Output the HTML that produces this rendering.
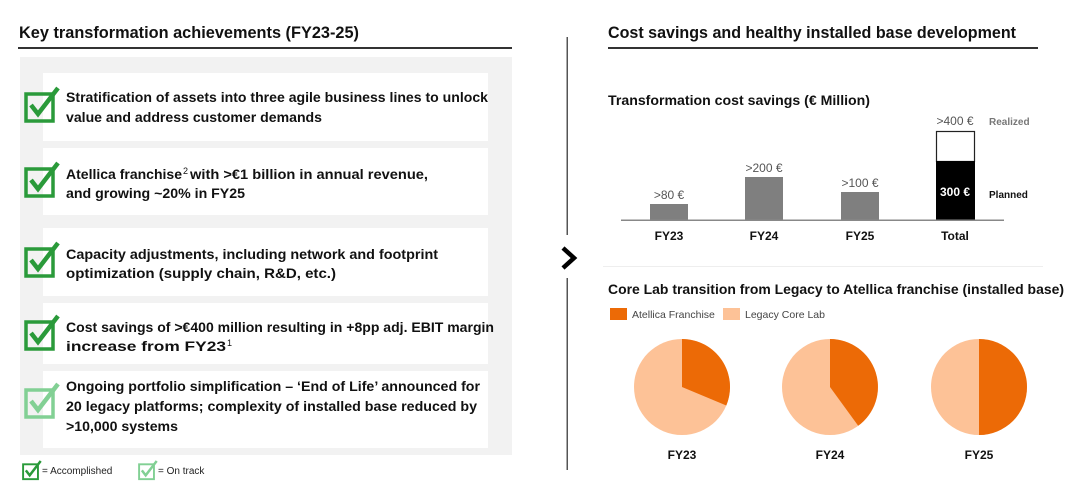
<!DOCTYPE html>
<html><head><meta charset="utf-8"><style>
html,body{margin:0;padding:0;background:#fff;}
svg{display:block;}
text{font-family:"Liberation Sans",sans-serif;}
</style></head><body>
<svg width="1080" height="481" viewBox="0 0 1080 481" xmlns="http://www.w3.org/2000/svg">
<defs>
<g id="chk">
<rect x="2" y="6" width="27" height="27" fill="none" stroke-width="3.5"/>
<path d="M7 17 L14 26 L34 0" fill="none" stroke-width="4.5" stroke-linejoin="miter"/>
</g>
</defs>
<text x="19" y="38" font-size="16.5" font-weight="bold" fill="#111" textLength="340" lengthAdjust="spacingAndGlyphs">Key transformation achievements (FY23-25)</text>
<rect x="18" y="47" width="494" height="2" fill="#333"/>
<rect x="20" y="57" width="492" height="398" fill="#f2f2f2"/>
<g fill="#fff">
<rect x="43" y="73" width="445" height="68"/>
<rect x="43" y="148" width="445" height="67"/>
<rect x="43" y="228" width="445" height="68"/>
<rect x="43" y="303" width="445" height="61"/>
<rect x="43" y="371" width="445" height="77"/>
</g>
<g stroke="#2a9a3a" fill="#2a9a3a">
<use href="#chk" x="24" y="88"/>
<use href="#chk" x="24" y="163"/>
<use href="#chk" x="24" y="243"/>
<use href="#chk" x="24" y="316"/>
</g>
<g stroke="#82d094" fill="#82d094"><use href="#chk" x="24" y="384"/></g>
<g font-size="14" font-weight="bold" fill="#111">
<text x="66" y="102" textLength="422" lengthAdjust="spacingAndGlyphs">Stratification of assets into three agile business lines to unlock</text>
<text x="66" y="122" textLength="256" lengthAdjust="spacingAndGlyphs">value and address customer demands</text>
<text x="66" y="179" textLength="116" lengthAdjust="spacingAndGlyphs">Atellica franchise</text>
<text x="183" y="174" font-size="9" font-weight="normal">2</text>
<text x="190" y="179" textLength="238" lengthAdjust="spacingAndGlyphs">with &gt;€1 billion in annual revenue,</text>
<text x="66" y="198" textLength="179" lengthAdjust="spacingAndGlyphs">and growing ~20% in FY25</text>
<text x="66" y="259" textLength="372" lengthAdjust="spacingAndGlyphs">Capacity adjustments, including network and footprint</text>
<text x="66" y="278" textLength="270" lengthAdjust="spacingAndGlyphs">optimization (supply chain, R&amp;D, etc.)</text>
<text x="66" y="332" textLength="428" lengthAdjust="spacingAndGlyphs">Cost savings of &gt;€400 million resulting in +8pp adj. EBIT margin</text>
<text x="66" y="351" textLength="160" lengthAdjust="spacingAndGlyphs">increase from FY23</text>
<text x="227" y="346" font-size="9" font-weight="normal">1</text>
<text x="66" y="391" textLength="414" lengthAdjust="spacingAndGlyphs">Ongoing portfolio simplification – ‘End of Life’ announced for</text>
<text x="66" y="411" textLength="411" lengthAdjust="spacingAndGlyphs">20 legacy platforms; complexity of installed base reduced by</text>
<text x="66" y="431" textLength="112" lengthAdjust="spacingAndGlyphs">&gt;10,000 systems</text>
</g>
<g transform="translate(22,461) scale(0.55)" stroke="#2a9a3a" fill="#2a9a3a"><use href="#chk"/></g>
<text x="42" y="474" font-size="10" fill="#222">= Accomplished</text>
<g transform="translate(138,461) scale(0.55)" stroke="#82d094" fill="#82d094"><use href="#chk"/></g>
<text x="158" y="474" font-size="10" fill="#222">= On track</text>
<rect x="566.5" y="37" width="1.5" height="198" fill="#555"/>
<rect x="566.5" y="278" width="1.5" height="192" fill="#555"/>
<path d="M563 248 L574 258 L563 268" fill="none" stroke="#000" stroke-width="4.5"/>
<text x="608" y="38" font-size="16.5" font-weight="bold" fill="#111" textLength="408" lengthAdjust="spacingAndGlyphs">Cost savings and healthy installed base development</text>
<rect x="608" y="47" width="430" height="2" fill="#333"/>
<text x="608" y="105" font-size="14" font-weight="bold" fill="#111" textLength="262" lengthAdjust="spacingAndGlyphs">Transformation cost savings (€ Million)</text>
<rect x="650" y="204" width="38" height="16" fill="#7f7f7f"/>
<rect x="745" y="177" width="38" height="43" fill="#7f7f7f"/>
<rect x="841" y="192" width="38" height="28" fill="#7f7f7f"/>
<rect x="936.5" y="131.5" width="38" height="30" fill="#fff" stroke="#222" stroke-width="1.2"/>
<rect x="936" y="161" width="39" height="59" fill="#000"/>
<rect x="621" y="219.5" width="383" height="1.5" fill="#888"/>
<g font-size="12" fill="#555" text-anchor="middle">
<text x="669" y="199">&gt;80 €</text>
<text x="764" y="172">&gt;200 €</text>
<text x="860" y="187">&gt;100 €</text>
<text x="955" y="125">&gt;400 €</text>
</g>
<text x="955" y="196" font-size="12" font-weight="bold" fill="#fff" text-anchor="middle">300 €</text>
<text x="989" y="125" font-size="10" font-weight="bold" fill="#777">Realized</text>
<text x="989" y="198" font-size="10" font-weight="bold" fill="#111">Planned</text>
<g font-size="12" font-weight="bold" fill="#111" text-anchor="middle">
<text x="669" y="240">FY23</text>
<text x="764" y="240">FY24</text>
<text x="860" y="240">FY25</text>
<text x="955" y="240">Total</text>
</g>
<rect x="603" y="266" width="440" height="1" fill="#eee"/>
<text x="608" y="294" font-size="14" font-weight="bold" fill="#111" textLength="456" lengthAdjust="spacingAndGlyphs">Core Lab transition from Legacy to Atellica franchise (installed base)</text>
<rect x="610" y="308" width="17" height="12" fill="#ec6a06"/>
<text x="632" y="318" font-size="10.5" fill="#444">Atellica Franchise</text>
<rect x="723" y="308" width="17" height="12" fill="#fdc297"/>
<text x="745" y="318" font-size="10.5" fill="#444">Legacy Core Lab</text>
<circle cx="682" cy="387" r="48" fill="#fdc297"/>
<path d="M682 387 L682 339 A48 48 0 0 1 726.3 405.5 Z" fill="#ec6a06"/>
<circle cx="830" cy="387" r="48" fill="#fdc297"/>
<path d="M830 387 L830 339 A48 48 0 0 1 858.2 425.8 Z" fill="#ec6a06"/>
<circle cx="979" cy="387" r="48" fill="#fdc297"/>
<path d="M979 387 L979 339 A48 48 0 0 1 979 435 Z" fill="#ec6a06"/>
<g font-size="12" font-weight="bold" fill="#111" text-anchor="middle">
<text x="682" y="459">FY23</text>
<text x="830" y="459">FY24</text>
<text x="979" y="459">FY25</text>
</g>
</svg>
</body></html>
